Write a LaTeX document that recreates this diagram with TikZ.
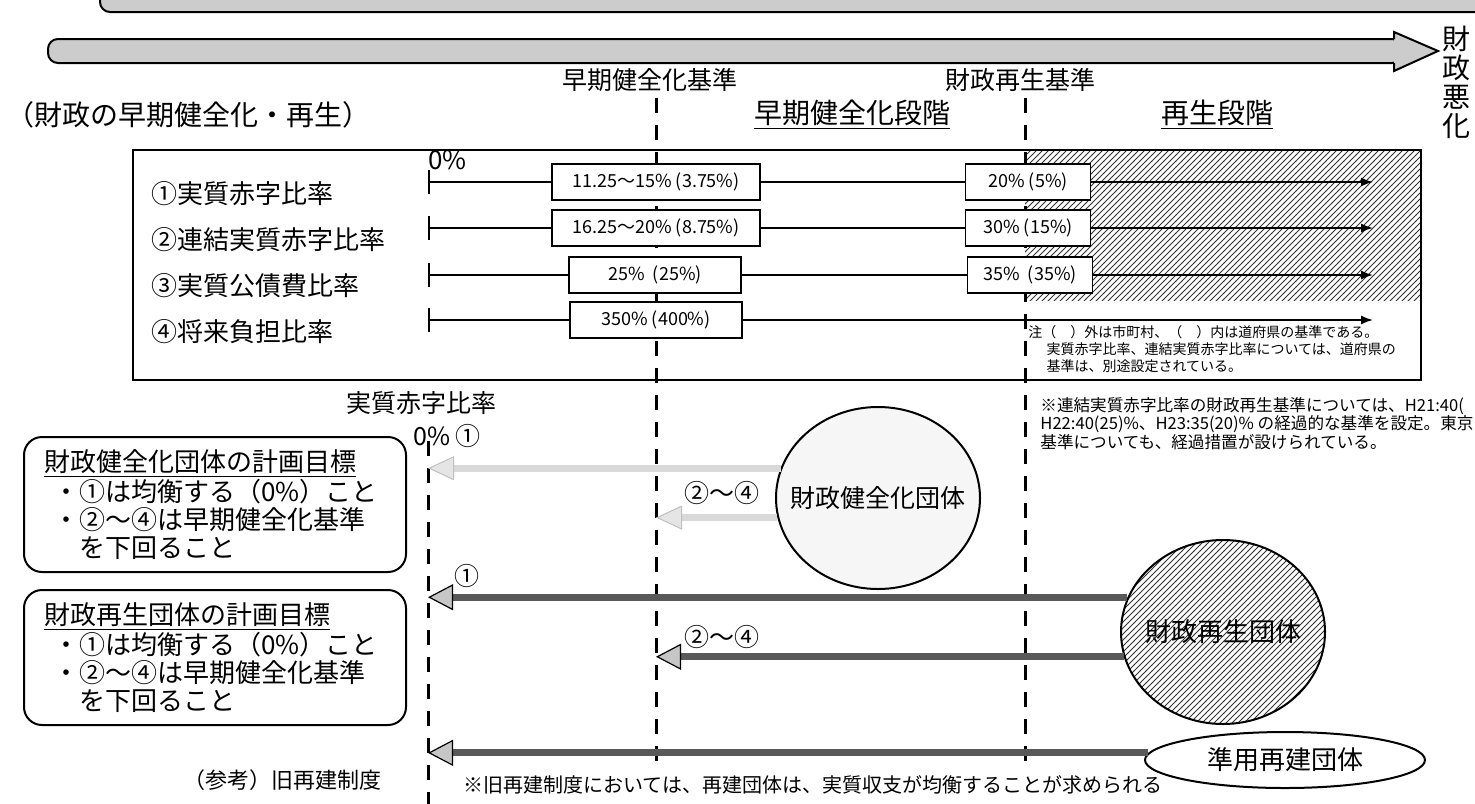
\documentclass[tikz,border=0pt]{standalone}
\usepackage{fontspec}
\setmainfont{Noto Sans CJK JP}
\usepackage{tikz}
\usetikzlibrary{arrows.meta,patterns,shapes.geometric}
\newcommand{\fsz}[2]{\fontsize{#1}{#2}\selectfont}
\tikzset{
  head/.style={inner sep=0pt,font=\fsz{14pt}{16pt}},
  sub/.style={inner sep=0pt,font=\fsz{12.5pt}{14pt}},
  rowlabel/.style={anchor=west,inner sep=0pt,font=\fsz{13pt}{14pt}},
  ratebox/.style={draw,line width=0.9pt,fill=white,minimum height=18pt,inner sep=0pt,font=\fsz{9pt}{10pt}},
  rowline/.style={line width=0.8pt},
  stagedash/.style={line width=1.5pt,dash pattern=on 7.5pt off 6pt},
  goalbox/.style={draw,line width=1pt,rounded corners=9pt,align=left,text width=171pt,inner xsep=10pt,minimum height=67.5pt,font=\fsz{13pt}{14pt}},
  body/.style={ellipse,draw,line width=1pt,inner sep=0pt},
  bigarrow/.style={line width=3.5pt,draw=black!65,-{Triangle[length=12.5pt,width=13pt,fill=gray!45,color=black,line width=0.6pt]}},
  faintarrow/.style={line width=3.5pt,draw=gray!30,-{Triangle[length=13pt,width=12pt,fill=gray!20,color=gray!50,line width=0.5pt]}}
}
\begin{document}
\begin{tikzpicture}[x=0.5pt,y=-0.5pt]
\clip (0,0) rectangle (1475,803);
\coordinate (bottom) at (0,806);
\coordinate (stop) at (0,772);
\coordinate (early) at (656,98);
\coordinate (rebirth) at (1025,98);
\coordinate (zero) at (428,441);
% top arrows
\filldraw[fill=gray!40,line width=1pt,rounded corners=5pt] (100,-16) rectangle (1520,12);
\filldraw[fill=gray!40,line width=1pt,rounded corners=5pt] (48,39) rectangle (1402,63);
\fill[gray!40] (1394,32) -- (1438,51) -- (1394,71) -- cycle;
\draw[line width=1pt] (1394,39) -- (1394,32) -- (1438,51) -- (1394,71) -- (1394,63);
\node[font=\fsz{14pt}{14.5pt},align=center,inner sep=0pt] (worse) at (1456,82) {財\\政\\悪\\化};
\node[head,anchor=west] (title) at (6,115) {（財政の早期健全化・再生）};
\node[sub] (earlystd) at (650,80) {早期健全化基準};
\node[sub] (rebirthstd) at (1020,80) {財政再生基準};
\node[head] (earlystage) at (852,115) {\underline{早期健全化段階}};
\node[head] (rebirthstage) at (1217,115) {\underline{再生段階}};
% panel
\fill[pattern=north east lines,pattern color=black!80] (1025,150) rectangle (1421,300);
\draw[stagedash] (early) -- (early |- stop);
\draw[stagedash] (rebirth) -- (rebirth |- stop);
\draw[stagedash] (zero) -- (zero |- bottom);
\draw[line width=1.3pt] (133,150) rectangle (1421,380);
\node[rowlabel] (lab1) at (151,194) {①実質赤字比率};
\node[rowlabel] (lab2) at (151,240) {②連結実質赤字比率};
\node[rowlabel] (lab3) at (151,286) {③実質公債費比率};
\node[rowlabel] (lab4) at (151,332) {④将来負担比率};
\node[rowlabel,font=\fsz{13pt}{14pt}] (pct) at (428,160) {0\%};
\foreach \y [count=\i] in {182,228,275,320} {
  \coordinate (t\i) at (429,\y);
  \coordinate (e\i) at (1373,\y);
  \draw[rowline] (429,\y-12) -- (429,\y+12);
}
\node[ratebox,minimum width=104pt] (ra1) at (656,182) {11.25～15\% (3.75\%)};
\node[ratebox,minimum width=104pt] (ra2) at (656,228) {16.25～20\% (8.75\%)};
\node[ratebox,minimum width=86pt] (ra3) at (655,275) {25\%~ (25\%)};
\node[ratebox,minimum width=86pt] (ra4) at (656,320) {350\% (400\%)};
\node[ratebox,minimum width=62.5pt] (rb1) at (1028,182) {20\% (5\%)};
\node[ratebox,minimum width=62.5pt] (rb2) at (1028,228) {30\% (15\%)};
\node[ratebox,minimum width=62.5pt] (rb3) at (1030,275) {35\%~ (35\%)};
\foreach \i in {1,2,3} {
  \draw[rowline] (t\i) -- (ra\i);
  \draw[rowline] (ra\i) -- (rb\i);
  \draw[rowline,-{Latex[length=6pt,width=4.5pt]}] (rb\i) -- (e\i);
}
\draw[rowline] (t4) -- (ra4);
\draw[rowline,-{Latex[length=6pt,width=4.5pt]}] (ra4) -- (e4);
\node[anchor=north west,inner sep=0pt,align=left,font=\fsz{7pt}{8.5pt}] (note) at (1028,325) {注（　）外は市町村、（　）内は道府県の基準である。\\\hspace*{1.3em}実質赤字比率、連結実質赤字比率については、道府県の\\\hspace*{1.3em}基準は、別途設定されている。};
\node[anchor=north west,inner sep=0pt,align=left,font=\fsz{8.3pt}{9.25pt}] (note2) at (1040,397) {※連結実質赤字比率の財政再生基準については、H21:40(\\H22:40(25)\%、H23:35(20)\% の経過的な基準を設定。東京\\基準についても、経過措置が設けられている。};
% lower part
\node[sub] (ratio) at (421,403) {実質赤字比率};
\node[sub] (zeropct) at (447,436) {0\% ①};
\node[goalbox,anchor=north west] (goal1) at (23,436) {\underline{財政健全化団体の計画目標}\\\hspace*{4.5pt}・①は均衡する（0\%）こと\\\hspace*{4.5pt}・②～④は早期健全化基準\\\hspace*{4.5pt}\phantom{・}を下回ること};
\node[goalbox,anchor=north west] (goal2) at (23,589) {\underline{財政再生団体の計画目標}\\\hspace*{4.5pt}・①は均衡する（0\%）こと\\\hspace*{4.5pt}・②～④は早期健全化基準\\\hspace*{4.5pt}\phantom{・}を下回ること};
\node[body,fill=gray!7,minimum width=102pt,minimum height=91pt,font=\fsz{12.5pt}{14pt}] (c1) at (878,498) {\makebox[0pt]{財政健全化団体}};
\node[body,pattern=north east lines,pattern color=black!80,minimum width=102pt,minimum height=92pt,font=\fsz{13pt}{14pt}] (c2) at (1223,632) {\makebox[0pt]{財政再生団体}};
\node[body,minimum width=140pt,minimum height=28pt,font=\fsz{13pt}{14pt}] (e3) at (1285,760) {準用再建団体};
\draw[faintarrow] (c1.163) -- (c1.163 -| zero);
\draw[faintarrow] (c1.191) -- (c1.191 -| early);
\draw[bigarrow] (c2.160) -- (c2.160 -| zero);
\draw[bigarrow] (c2.194) -- (c2.194 -| early);
\draw[bigarrow] (e3.177) -- (e3.177 -| zero);
\node[sub] (one1) at (467,576) {①};
\node[sub] (range1) at (722,493) {②～④};
\node[sub] (range2) at (722,637) {②～④};
\node[anchor=west,inner sep=0pt,font=\fsz{11pt}{12pt}] (ref) at (183,780) {（参考）旧再建制度};
\node[anchor=west,inner sep=0pt,font=\fsz{10pt}{11pt}] (oldnote) at (463,785) {※旧再建制度においては、再建団体は、実質収支が均衡することが求められる};
\end{tikzpicture}
\end{document}
